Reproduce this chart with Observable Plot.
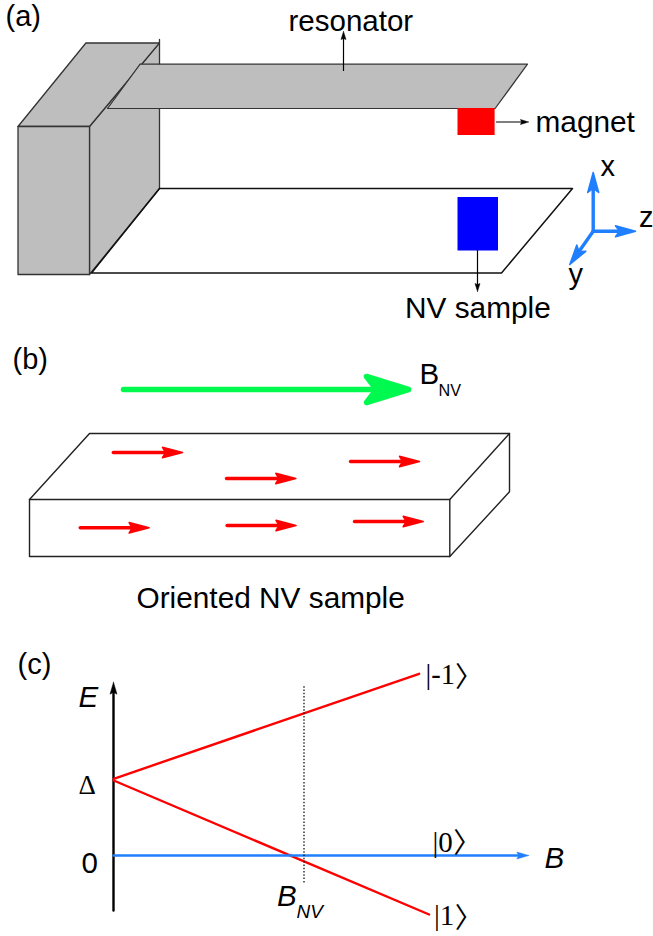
<!DOCTYPE html>
<html>
<head>
<meta charset="utf-8">
<script src="https://cdn.jsdelivr.net/npm/d3@7"></script>
<script src="https://cdn.jsdelivr.net/npm/@observablehq/plot@0.6"></script>
<style>html,body{margin:0;padding:0;background:#fff}svg{display:block}</style>
</head>
<body>
<div id="chart"></div>
<script>
// ---- panel (a) shapes
const blockFaces = [
  [[89,126],[159,42],[159,39],[159,188],[89,274],[89,126]],
  [[17.5,126],[85.4,42.5],[159,42.5],[89,126],[17.5,126]],
  [[17.5,126],[89,126],[89,274],[17.5,274],[17.5,126]]
];
const resonatorFace = [[139.6,63.7],[527,63.7],[494.6,108],[107,108],[139.6,63.7]];
const floorEdge = [[159,188],[572,188],[501,272.5],[91,272.5],[159,188]];
const magnetRect = [{x1:457.5,x2:494.6,y1:108,y2:135,fill:"#ff0000"}];
const sampleRect = [{x1:457.5,x2:498,y1:197,y2:250.5,fill:"#0000ff"}];
// ---- panel (b) shapes
const slabEdges = [
  [[29,499],[449.3,499],[449.3,556],[29,556],[29,499]],
  [[29,499],[89,433],[509,433],[449.3,499]],
  [[509,433],[509,491.3],[449.3,556]]
];
// ---- panel (c) lines
const levelMinusOne = [[113.2,778.3],[418.6,673.3]];
const levelPlusOne = [[113.2,780],[428.6,914]];
const markerLine = [[303.5,685.7],[303.5,882.7]];
// ---- arrows: from, to
const thinArrows = [[[343,70],[343,31]],[[496,121.5],[528,121.5]],[[477,250],[477,291]]];
const frameArrows = [[[592.7,230.7],[592.7,172]],[[592.7,230.7],[635,230.7]],[[592.7,230.7],[569.3,264]]];
const fieldArrow = [[[123,389],[408,389]]];
const nvArrows = [
  [[112.8,452],[182,452]],[[226,478],[295.3,478]],[[350,461],[419,461]],
  [[79.7,527.3],[148.6,527.3]],[[226.6,525],[295.5,525]],[[354,521],[422.7,521]]
];
const axisEArrow = [[[113,910],[113,681.7]]];
const axisBArrow = [[[113.2,855],[528.3,855]]];
// ---- text
const sansLabels = [
  ["(a)",5,25,29],["resonator",288,30,29.5],["magnet",535,131,29.8],["NV sample",404.5,317,29.8],
  ["x",600,175,29],["z",638.5,226,29],["y",568,283,29],
  ["(b)",12,368,29],["B",419,383,29.5],["NV",438,395,16.2],["Oriented NV sample",136,607,29.8],
  ["(c)",17,673,29],["0",81,872,29.5]
];
const italicLabels = [["E",78,706,29.5],["B",544,867,29.5],["B",276.5,905,29.5],["NV",296,917,19]];
const serifLabels = [
  ["\u0394",78,793,27],
  ["|-1",425,683,28.5],["|0",432,851,29],["|1",433.5,924,29]
];
const ketClosers = [["\u3009",454.5,686,28],["\u3009",452.8,852.6,28],["\u3009",454.2,927,28]];

const P = {x:"0", y:"1"};
const poly = (pts, o) => Plot.line(pts, {...P, ...o});
const head = ([a,b], len, hw, notch) => {
  const L = Math.hypot(b[0]-a[0], b[1]-a[1]), ux = (b[0]-a[0])/L, uy = (b[1]-a[1])/L, nx = -uy, ny = ux;
  return [b,
    [b[0]-ux*len+nx*hw, b[1]-uy*len+ny*hw],
    [b[0]-ux*notch, b[1]-uy*notch],
    [b[0]-ux*len-nx*hw, b[1]-uy*len-ny*hw],
    b];
};
const arrows = (list, color, lw, len, hw, notch, hs = 0.5) => list.flatMap(ar => [
  poly([ar[0], [ar[1][0]-(ar[1][0]-ar[0][0])*notch/Math.hypot(ar[1][0]-ar[0][0],ar[1][1]-ar[0][1]),
                ar[1][1]-(ar[1][1]-ar[0][1])*notch/Math.hypot(ar[1][0]-ar[0][0],ar[1][1]-ar[0][1])]],
       {stroke:color, strokeWidth:lw}),
  poly(head(ar,len,hw,notch), {fill:color, stroke:color, strokeWidth:hs})
]);
const labels = (rows, family, style) => Plot.text(rows, {
  text:"0", x:"1", y:"2", fontSize:d=>d[3], fontFamily:family, fontStyle:style,
  textAnchor:"start", lineAnchor:"bottom", fill:"black"
});

const chart = Plot.plot({
  width:653, height:936, margin:0,
  style:{background:"#fff"},
  x:{domain:[0,653], range:[0,653], axis:null},
  y:{domain:[0,936], range:[0,936], axis:null},
  marks:[
    ...blockFaces.map(f => poly(f,{fill:"#bebebe",stroke:"#333",strokeWidth:1.3})),
    poly(resonatorFace,{fill:"#bebebe",stroke:"#333",strokeWidth:1.2}),
    poly(floorEdge,{stroke:"#111",strokeWidth:1.5}),
    Plot.rect(magnetRect,{x1:"x1",x2:"x2",y1:"y1",y2:"y2",fill:"fill"}),
    Plot.rect(sampleRect,{x1:"x1",x2:"x2",y1:"y1",y2:"y2",fill:"fill"}),
    ...arrows(thinArrows,"#000",1.2,8,2.5,7),
    ...arrows(frameArrows,"#1f7fff",3.4,20,5.5,16,1.5),
    ...slabEdges.map(f => poly(f,{stroke:"#222",strokeWidth:1.4})),
    ...arrows(fieldArrow,"#00f94f",5.5,42,13,32,5.5),
    ...arrows(nvArrows,"#ff0000",3.4,20,5.2,17,1.5),
    ...arrows(axisEArrow,"#000",2.4,12,3.5,10),
    poly(levelMinusOne,{stroke:"#ff0000",strokeWidth:2.4}),
    poly(levelPlusOne,{stroke:"#ff0000",strokeWidth:2.4}),
    ...arrows(axisBArrow,"#1f7fff",2.6,12,3.5,10),
    poly(markerLine,{stroke:"#000",strokeWidth:1.2,strokeDasharray:"1.5,1.8",strokeLinecap:"butt"}),
    labels(sansLabels,"Liberation Sans","normal"),
    labels(italicLabels,"Liberation Sans","italic"),
    labels(serifLabels,"Liberation Serif","normal"),
    labels(ketClosers,"Noto Sans CJK JP","normal")
  ]
});
document.getElementById("chart").append(chart);
</script>
</body>
</html>
